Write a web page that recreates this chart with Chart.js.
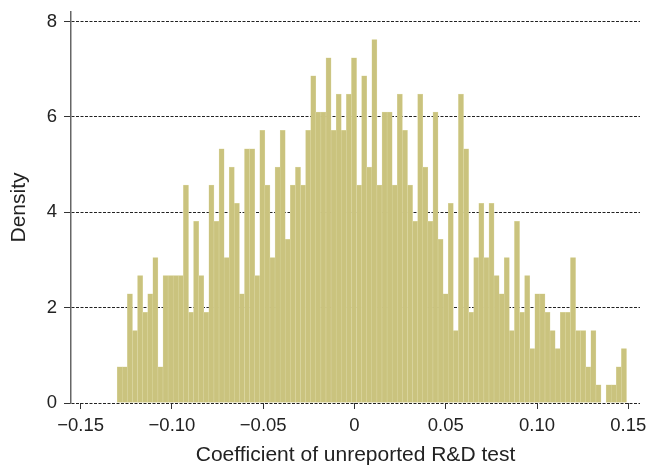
<!DOCTYPE html>
<html>
<head>
<meta charset="utf-8">
<script src="https://cdn.jsdelivr.net/npm/chart.js@4/dist/chart.umd.min.js"></script>
<style>
  html, body { margin: 0; padding: 0; background: #fff; }
  canvas { display: block; }
</style>
</head>
<body>
<canvas id="c" width="649" height="466"></canvas>
<script>
// Histogram bins: left edge of the first bin and the bin width
const binStart = -0.13;
const binWidth = 0.00279;

// Density per bin, 100 bins
const density = [
  0.76, 0.76, 2.29, 1.52, 2.67, 1.90, 2.29, 3.05, 0.76, 2.67,
  2.67, 2.67, 2.67, 4.57, 1.90, 3.81, 2.67, 1.90, 4.57, 3.81,
  5.33, 3.05, 4.95, 4.19, 2.29, 5.33, 5.33, 2.67, 5.72, 4.57,
  3.05, 4.95, 5.72, 3.43, 4.57, 4.95, 4.57, 5.72, 6.86, 6.10,
  6.10, 7.24, 5.72, 6.48, 5.72, 6.48, 7.24, 4.57, 6.86, 4.95,
  7.62, 4.57, 6.10, 6.10, 4.57, 6.48, 5.72, 4.57, 3.81, 6.48,
  4.95, 3.81, 6.10, 3.43, 2.29, 4.19, 1.52, 6.48, 5.33, 1.90,
  3.05, 4.19, 3.05, 4.19, 2.67, 2.29, 3.05, 1.52, 3.81, 1.90,
  2.67, 1.14, 2.29, 2.29, 1.90, 1.52, 1.14, 1.90, 1.90, 3.05,
  1.52, 1.52, 0.76, 1.52, 0.38, 0.00, 0.38, 0.38, 0.76, 1.14
];

const xTickValues = [-0.15, -0.10, -0.05, 0, 0.05, 0.10, 0.15];
const xTickLabels = ['\u22120.15', '\u22120.10', '\u22120.05', '0', '0.05', '0.10', '0.15'];
const yTickValues = [0, 2, 4, 6, 8];
const yTickLabels = ['0', '2', '4', '6', '8'];

const xTitle = 'Coefficient of unreported R&D test';
const yTitle = 'Density';

const points = density.map((d, i) => ({ x: binStart + (i + 0.5) * binWidth, y: d }));

const FONT = '"Liberation Sans", Arial, Helvetica, sans-serif';
const TEXT = '#222';

new Chart(document.getElementById('c'), {
  type: 'bar',
  data: {
    datasets: [{
      data: points,
      backgroundColor: '#CAC37E',
      borderColor: '#DEDAA6',
      borderWidth: { top: 0.5, left: 0.5, right: 0.5, bottom: 0 },
      borderSkipped: false,
      barPercentage: 1,
      categoryPercentage: 1
    }]
  },
  options: {
    responsive: false,
    animation: false,
    devicePixelRatio: 1,
    layout: { padding: { top: 12, right: 9, left: 0, bottom: 0 } },
    plugins: { legend: { display: false }, tooltip: { enabled: false } },
    scales: {
      x: {
        type: 'linear',
        min: -0.1553,
        max: 0.1564,
        offset: false,
        afterFit: s => { s.height = 63; s.paddingLeft = 0; s.paddingRight = 0; s.paddingTop = 0; s.paddingBottom = 0; },
        afterBuildTicks: s => { s.ticks = xTickValues.map(v => ({ value: v })); },
        grid: {
          drawOnChartArea: false,
          offset: false,
          tickLength: 6,
          tickColor: '#333',
          tickWidth: 1
        },
        border: { display: false },
        ticks: {
          autoSkip: false,
          maxRotation: 0,
          padding: 6,
          color: TEXT,
          font: { family: FONT, size: 18.5 },
          callback: (v, i) => xTickLabels[i]
        },
        title: {
          display: true,
          text: xTitle,
          color: TEXT,
          font: { family: FONT, size: 21, lineHeight: 1 },
          padding: { top: 0, bottom: 0 }
        }
      },
      y: {
        type: 'linear',
        min: 0,
        max: 8.2,
        afterFit: s => { s.width = 71; s.paddingLeft = 0; s.paddingRight = 0; s.paddingTop = 0; s.paddingBottom = 0; },
        afterBuildTicks: s => { s.ticks = yTickValues.map(v => ({ value: v })); },
        grid: {
          color: '#222',
          lineWidth: 1,
          tickLength: 7,
          tickColor: '#333',
          tickWidth: 1,
          tickBorderDash: []
        },
        border: { display: true, color: '#666', width: 1.5, dash: [3, 1.5] },
        ticks: {
          padding: 7,
          color: TEXT,
          font: { family: FONT, size: 18.5 },
          callback: (v, i) => yTickLabels[i]
        },
        title: {
          display: true,
          text: yTitle,
          color: TEXT,
          font: { family: FONT, size: 21, lineHeight: 1 },
          padding: { top: 9, bottom: 0 }
        }
      }
    }
  }
});
</script>
</body>
</html>
